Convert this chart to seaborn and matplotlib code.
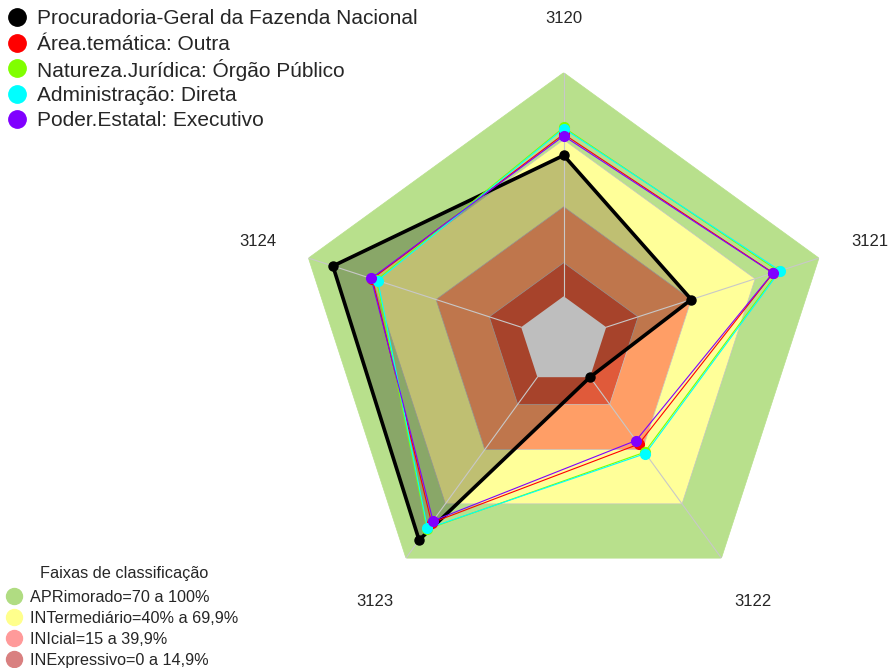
import numpy as np
import seaborn as sns
import matplotlib.pyplot as plt
from matplotlib.lines import Line2D

sns.set_style("white")
plt.rcParams['font.family'] = ['Liberation Sans', 'DejaVu Sans']

# eixos do radar (sentido horario a partir do topo)
categorias = ['3120', '3121', '3122', '3123', '3124']

# series (% por eixo)
pgfn = [63, 40, 0, 90, 88.5]
area_outra = [72.5, 78.5, 37, 80.5, 70]
natureza_orgao = [75.5, 81, 41.5, 84, 68]
admin_direta = [75, 81.7, 42.2, 83.6, 67.4]
poder_executivo = [71.7, 78.3, 35, 79.4, 70.5]

series_nomes = ['Procuradoria-Geral da Fazenda Nacional', 'Área.temática: Outra',
                'Natureza.Jurídica: Órgão Público', 'Administração: Direta',
                'Poder.Estatal: Executivo']
series_vals = [pgfn, area_outra, natureza_orgao, admin_direta, poder_executivo]
series_cores = ['black', '#FF0000', '#80FF00', '#00FFFF', '#8000FF']

# faixas de classificacao (limite superior de cada faixa)
faixas_lim = [100, 70, 40, 15, 0]
faixas_cor = ['#B8E08C', '#FFFF99', '#FF9E66', '#E05A3A', '#BEBEBE']
faixas_nomes = ['APRimorado=70 a 100%', 'INTermediário=40% a 69,9%',
                'INIcial=15 a 39,9%', 'INExpressivo=0 a 14,9%']
faixas_leg_cor = ['#B0DC82', '#FFFF8C', '#FF9A9A', '#D98080']

n = len(categorias)
theta = np.linspace(0, 2 * np.pi, n, endpoint=False)
theta_c = np.append(theta, theta[0])

W, H = 889, 668
fig = plt.figure(figsize=(W / 100, H / 100), dpi=100)
cx, cy, R = 563.7, H - 341, 268.4
ax = fig.add_axes([(cx - R) / W, (cy - R) / H, 2 * R / W, 2 * R / H], projection='polar')
ax.set_theta_zero_location('N')
ax.set_theta_direction(-1)
ax.set_ylim(-20, 100)
ax.grid(False)
ax.set_xticks([])
ax.set_yticks([])
ax.spines['polar'].set_visible(False)
ax.patch.set_alpha(0)

# faixas
for lim, cor in zip(faixas_lim[:-1], faixas_cor[:-1]):
    ax.fill(theta_c, [lim] * (n + 1), color=cor, zorder=1, lw=0.5,
            edgecolor='#C4C4C4' if lim < 100 else cor)

# poligono da PGFN preenchido
ax.fill(theta_c, pgfn + [pgfn[0]], color='black', alpha=0.25, zorder=2, lw=0)

# centro cinza
ax.fill(theta_c, [faixas_lim[-1]] * (n + 1), color=faixas_cor[-1], zorder=3, lw=0)

# eixos radiais
for t in theta:
    ax.plot([t, t], [faixas_lim[-1], 100], color='#C8C8C8', lw=0.8, zorder=3)

# series
for nome, vals, cor in zip(series_nomes, series_vals, series_cores):
    v = vals + [vals[0]]
    if cor == 'black':
        ax.plot(theta_c, v, color=cor, lw=2.6, zorder=4, solid_joinstyle='round')
        ax.plot(theta, vals, 'o', color=cor, ms=6.5, zorder=5)
    else:
        ax.plot(theta_c, v, color=cor, lw=0.8, zorder=4)
        ax.plot(theta, vals, 'o', color=cor, ms=7, zorder=5)

# rotulos dos eixos
for t, lab in zip(theta, categorias):
    ax.text(t, 124, lab, ha='center', va='center', fontsize=12, clip_on=False)


def px(x, y):
    return x / W, 1 - y / H


# legenda das series (canto superior esquerdo)
for i, (nome, cor) in enumerate(zip(series_nomes, series_cores)):
    y = 17 + i * 25.5
    fig.add_artist(Line2D([px(17, y)[0]], [px(17, y)[1]], ls='none', marker='o',
                          ms=12.5, color=cor, transform=fig.transFigure))
    fig.text(*px(37, y), nome, fontsize=15, ha='left', va='center_baseline')

# legenda das faixas (canto inferior esquerdo)
fig.text(*px(124, 572), 'Faixas de classificação', fontsize=11.7,
         ha='center', va='center_baseline')
for i, (nome, cor) in enumerate(zip(faixas_nomes, faixas_leg_cor)):
    y = 596 + i * 21
    fig.add_artist(Line2D([px(14, y)[0]], [px(14, y)[1]], ls='none', marker='o',
                          ms=11.5, color=cor, transform=fig.transFigure))
    fig.text(*px(30, y), nome, fontsize=11.7, ha='left', va='center_baseline')

plt.savefig('out.png', dpi=100)
